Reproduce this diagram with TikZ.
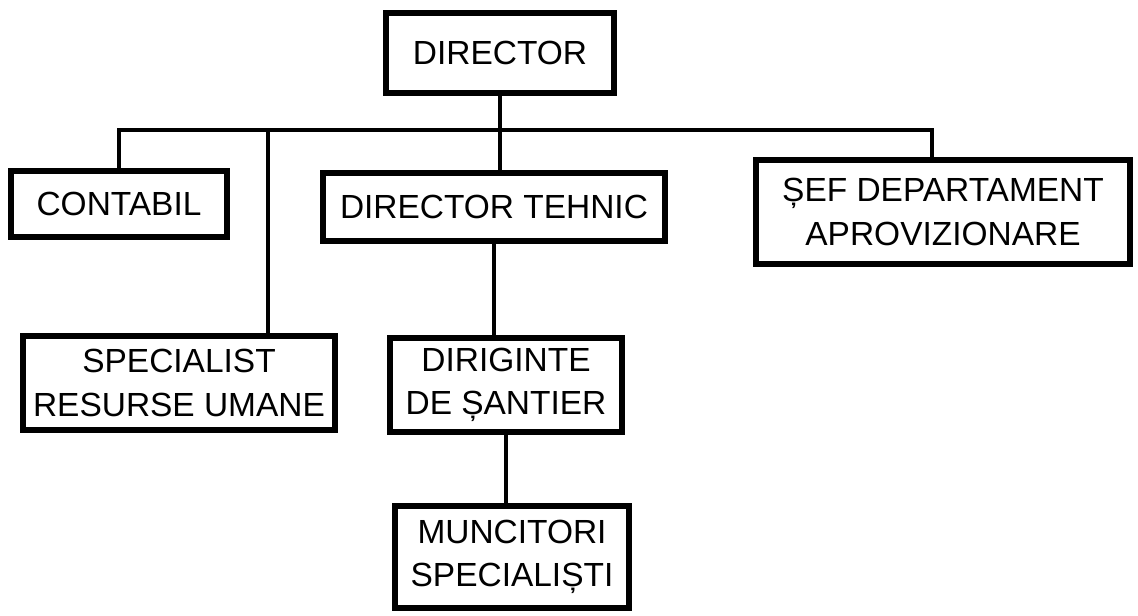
\documentclass[tikz,border=0pt]{standalone}
\usepackage{fontspec}
\setmainfont{Liberation Sans}
\usepackage{tikz}
\usetikzlibrary{positioning}

\begin{document}
\begin{tikzpicture}[
  every node/.style={font=\fontsize{23.8}{31}\selectfont},
  box/.style={draw,line width=4.3pt,align=center,inner sep=0pt},
  link/.style={line width=2.2pt}]
  \useasboundingbox (0,0) rectangle (28.45,15.375);
  \node[box,minimum width=5.7cm,minimum height=2.02cm] (director) at (12.5,14.05) {DIRECTOR};
  \node[box,minimum width=5.4cm,minimum height=1.65cm] (contabil) at (2.975,10.275) {CONTABIL};
  \node[box,minimum width=8.55cm,minimum height=1.72cm] (tehnic) at (12.35,10.2) {DIRECTOR TEHNIC};
  \node[box,minimum width=9.33cm,minimum height=2.6cm] (sef) at (23.575,10.075) {ȘEF DEPARTAMENT\\APROVIZIONARE};
  \node[box,minimum width=7.8cm,minimum height=2.33cm] (resurse) at (4.475,5.8) {SPECIALIST\\RESURSE UMANE};
  \node[box,minimum width=5.78cm,minimum height=2.35cm] (diriginte) at (12.65,5.75) {DIRIGINTE\\DE ȘANTIER};
  \node[box,minimum width=5.83cm,minimum height=2.55cm] (muncitori) at (12.8,1.45) {MUNCITORI\\SPECIALIȘTI};
  % bara orizontala
  \coordinate (busR) at (23.3,12.125);
  \coordinate (busHR) at (6.7,12.125);
  \draw[link] (contabil.north) |- (busR) -- (busR |- sef.north);
  \draw[link] (busHR) -- (busHR |- resurse.north);
  \draw[link] (director.south) -- (director.south |- tehnic.north);
  \draw[link] (tehnic.south) -- (tehnic.south |- diriginte.north);
  \draw[link] (diriginte.south) -- (diriginte.south |- muncitori.north);
\end{tikzpicture}
\end{document}
